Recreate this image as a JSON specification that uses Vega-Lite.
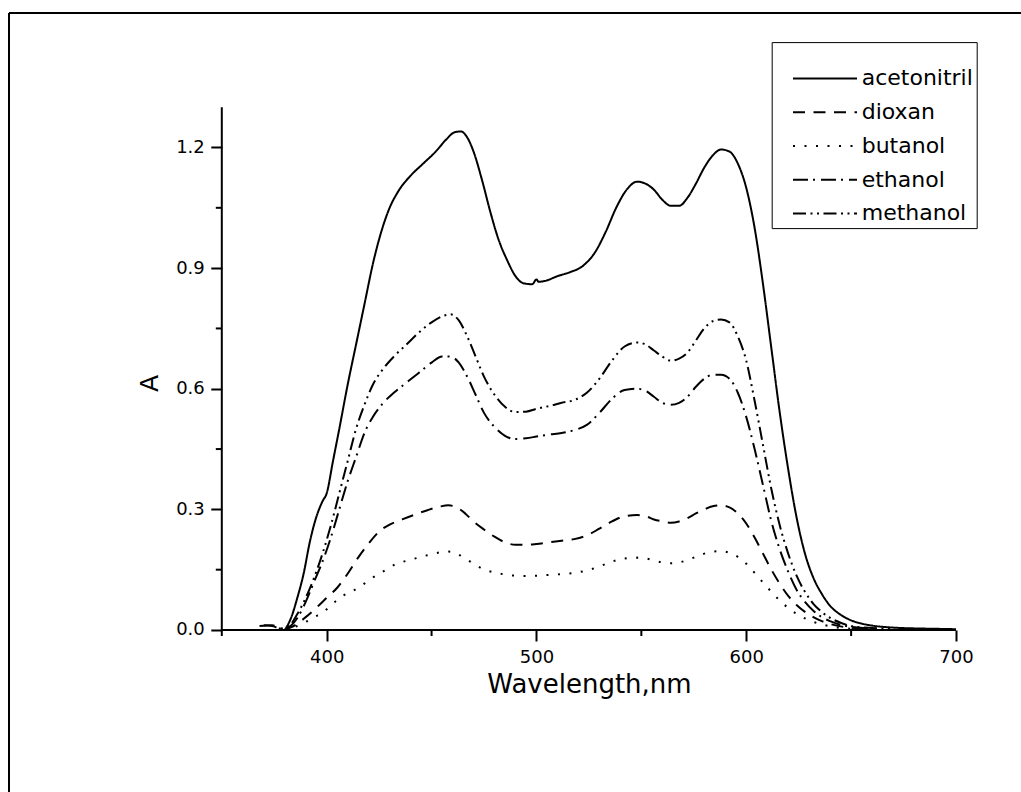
{
"$schema": "https://vega.github.io/schema/vega-lite/v6.json",
"width": 1012, "height": 779,
"autosize": "none",
"padding": {"left": 9, "top": 13, "right": 0, "bottom": 0},
"background": "white",
"config": {"view": {"stroke": null}, "font": "DejaVu Sans", "axis": {"grid": false, "labelColor": "black", "titleColor": "black", "tickColor": "black"}},
"datasets": {
"spectra": [
{"s":"acetonitril","x":380,"A":0},{"s":"acetonitril","x":383,"A":0.03},{"s":"acetonitril","x":386,"A":0.08},{"s":"acetonitril","x":389,"A":0.14},{"s":"acetonitril","x":392,"A":0.22},{"s":"acetonitril","x":395,"A":0.28},{"s":"acetonitril","x":398,"A":0.32},{"s":"acetonitril","x":400,"A":0.34},{"s":"acetonitril","x":403,"A":0.42},{"s":"acetonitril","x":406,"A":0.5},{"s":"acetonitril","x":410,"A":0.61},{"s":"acetonitril","x":414,"A":0.71},{"s":"acetonitril","x":418,"A":0.81},{"s":"acetonitril","x":422,"A":0.91},{"s":"acetonitril","x":426,"A":0.99},{"s":"acetonitril","x":430,"A":1.05},{"s":"acetonitril","x":434,"A":1.09},{"s":"acetonitril","x":440,"A":1.13},{"s":"acetonitril","x":446,"A":1.16},{"s":"acetonitril","x":452,"A":1.19},{"s":"acetonitril","x":457,"A":1.22},{"s":"acetonitril","x":461,"A":1.238},{"s":"acetonitril","x":464,"A":1.24},{"s":"acetonitril","x":467,"A":1.225},{"s":"acetonitril","x":470,"A":1.19},{"s":"acetonitril","x":474,"A":1.12},{"s":"acetonitril","x":478,"A":1.04},{"s":"acetonitril","x":482,"A":0.97},{"s":"acetonitril","x":486,"A":0.92},{"s":"acetonitril","x":490,"A":0.88},{"s":"acetonitril","x":494,"A":0.862},{"s":"acetonitril","x":498,"A":0.86},{"s":"acetonitril","x":500,"A":0.872},{"s":"acetonitril","x":501,"A":0.866},{"s":"acetonitril","x":504,"A":0.868},{"s":"acetonitril","x":510,"A":0.88},{"s":"acetonitril","x":516,"A":0.89},{"s":"acetonitril","x":522,"A":0.905},{"s":"acetonitril","x":528,"A":0.94},{"s":"acetonitril","x":533,"A":0.99},{"s":"acetonitril","x":538,"A":1.05},{"s":"acetonitril","x":543,"A":1.095},{"s":"acetonitril","x":548,"A":1.115},{"s":"acetonitril","x":552,"A":1.11},{"s":"acetonitril","x":556,"A":1.095},{"s":"acetonitril","x":560,"A":1.07},{"s":"acetonitril","x":564,"A":1.055},{"s":"acetonitril","x":568,"A":1.055},{"s":"acetonitril","x":572,"A":1.075},{"s":"acetonitril","x":576,"A":1.11},{"s":"acetonitril","x":580,"A":1.15},{"s":"acetonitril","x":584,"A":1.18},{"s":"acetonitril","x":588,"A":1.195},{"s":"acetonitril","x":592,"A":1.19},{"s":"acetonitril","x":596,"A":1.16},{"s":"acetonitril","x":600,"A":1.1},{"s":"acetonitril","x":604,"A":1.0},{"s":"acetonitril","x":608,"A":0.86},{"s":"acetonitril","x":612,"A":0.7},{"s":"acetonitril","x":616,"A":0.54},{"s":"acetonitril","x":620,"A":0.4},{"s":"acetonitril","x":624,"A":0.28},{"s":"acetonitril","x":628,"A":0.19},{"s":"acetonitril","x":632,"A":0.13},{"s":"acetonitril","x":636,"A":0.09},{"s":"acetonitril","x":640,"A":0.06},{"s":"acetonitril","x":645,"A":0.038},{"s":"acetonitril","x":650,"A":0.024},{"s":"acetonitril","x":655,"A":0.016},{"s":"acetonitril","x":660,"A":0.011},{"s":"acetonitril","x":670,"A":0.006},{"s":"acetonitril","x":680,"A":0.004},{"s":"acetonitril","x":690,"A":0.003},{"s":"acetonitril","x":700,"A":0.002},
{"s":"methanol","x":370,"A":0.012},{"s":"methanol","x":374,"A":0.01},{"s":"methanol","x":378,"A":0.004},{"s":"methanol","x":382,"A":0.01},{"s":"methanol","x":386,"A":0.04},{"s":"methanol","x":390,"A":0.08},{"s":"methanol","x":394,"A":0.13},{"s":"methanol","x":398,"A":0.19},{"s":"methanol","x":402,"A":0.26},{"s":"methanol","x":406,"A":0.34},{"s":"methanol","x":410,"A":0.42},{"s":"methanol","x":414,"A":0.5},{"s":"methanol","x":418,"A":0.56},{"s":"methanol","x":422,"A":0.61},{"s":"methanol","x":427,"A":0.65},{"s":"methanol","x":432,"A":0.68},{"s":"methanol","x":438,"A":0.71},{"s":"methanol","x":444,"A":0.74},{"s":"methanol","x":450,"A":0.765},{"s":"methanol","x":455,"A":0.78},{"s":"methanol","x":459,"A":0.785},{"s":"methanol","x":463,"A":0.77},{"s":"methanol","x":467,"A":0.73},{"s":"methanol","x":471,"A":0.68},{"s":"methanol","x":475,"A":0.63},{"s":"methanol","x":480,"A":0.585},{"s":"methanol","x":485,"A":0.555},{"s":"methanol","x":490,"A":0.542},{"s":"methanol","x":495,"A":0.543},{"s":"methanol","x":500,"A":0.55},{"s":"methanol","x":506,"A":0.557},{"s":"methanol","x":512,"A":0.565},{"s":"methanol","x":518,"A":0.572},{"s":"methanol","x":524,"A":0.59},{"s":"methanol","x":530,"A":0.625},{"s":"methanol","x":536,"A":0.67},{"s":"methanol","x":542,"A":0.705},{"s":"methanol","x":548,"A":0.715},{"s":"methanol","x":552,"A":0.71},{"s":"methanol","x":556,"A":0.695},{"s":"methanol","x":560,"A":0.68},{"s":"methanol","x":564,"A":0.67},{"s":"methanol","x":568,"A":0.675},{"s":"methanol","x":572,"A":0.69},{"s":"methanol","x":576,"A":0.72},{"s":"methanol","x":580,"A":0.75},{"s":"methanol","x":584,"A":0.768},{"s":"methanol","x":588,"A":0.772},{"s":"methanol","x":592,"A":0.765},{"s":"methanol","x":596,"A":0.73},{"s":"methanol","x":600,"A":0.67},{"s":"methanol","x":604,"A":0.57},{"s":"methanol","x":608,"A":0.46},{"s":"methanol","x":612,"A":0.35},{"s":"methanol","x":616,"A":0.26},{"s":"methanol","x":620,"A":0.19},{"s":"methanol","x":624,"A":0.135},{"s":"methanol","x":628,"A":0.095},{"s":"methanol","x":632,"A":0.065},{"s":"methanol","x":636,"A":0.045},{"s":"methanol","x":640,"A":0.03},{"s":"methanol","x":645,"A":0.018},{"s":"methanol","x":650,"A":0.01},{"s":"methanol","x":660,"A":0.005},{"s":"methanol","x":670,"A":0.003},
{"s":"ethanol","x":368,"A":0.01},{"s":"ethanol","x":374,"A":0.012},{"s":"ethanol","x":378,"A":0.004},{"s":"ethanol","x":382,"A":0.008},{"s":"ethanol","x":386,"A":0.03},{"s":"ethanol","x":390,"A":0.07},{"s":"ethanol","x":394,"A":0.12},{"s":"ethanol","x":398,"A":0.17},{"s":"ethanol","x":402,"A":0.23},{"s":"ethanol","x":406,"A":0.3},{"s":"ethanol","x":410,"A":0.37},{"s":"ethanol","x":414,"A":0.43},{"s":"ethanol","x":418,"A":0.49},{"s":"ethanol","x":422,"A":0.53},{"s":"ethanol","x":427,"A":0.565},{"s":"ethanol","x":432,"A":0.59},{"s":"ethanol","x":438,"A":0.615},{"s":"ethanol","x":444,"A":0.64},{"s":"ethanol","x":450,"A":0.665},{"s":"ethanol","x":455,"A":0.68},{"s":"ethanol","x":459,"A":0.68},{"s":"ethanol","x":463,"A":0.665},{"s":"ethanol","x":467,"A":0.63},{"s":"ethanol","x":471,"A":0.585},{"s":"ethanol","x":475,"A":0.54},{"s":"ethanol","x":480,"A":0.505},{"s":"ethanol","x":485,"A":0.483},{"s":"ethanol","x":490,"A":0.475},{"s":"ethanol","x":495,"A":0.477},{"s":"ethanol","x":500,"A":0.481},{"s":"ethanol","x":506,"A":0.486},{"s":"ethanol","x":512,"A":0.49},{"s":"ethanol","x":518,"A":0.497},{"s":"ethanol","x":524,"A":0.51},{"s":"ethanol","x":530,"A":0.54},{"s":"ethanol","x":536,"A":0.575},{"s":"ethanol","x":542,"A":0.597},{"s":"ethanol","x":548,"A":0.6},{"s":"ethanol","x":552,"A":0.595},{"s":"ethanol","x":556,"A":0.58},{"s":"ethanol","x":560,"A":0.565},{"s":"ethanol","x":564,"A":0.56},{"s":"ethanol","x":568,"A":0.565},{"s":"ethanol","x":572,"A":0.58},{"s":"ethanol","x":576,"A":0.605},{"s":"ethanol","x":580,"A":0.625},{"s":"ethanol","x":584,"A":0.635},{"s":"ethanol","x":588,"A":0.635},{"s":"ethanol","x":592,"A":0.625},{"s":"ethanol","x":596,"A":0.59},{"s":"ethanol","x":600,"A":0.53},{"s":"ethanol","x":604,"A":0.45},{"s":"ethanol","x":608,"A":0.36},{"s":"ethanol","x":612,"A":0.27},{"s":"ethanol","x":616,"A":0.2},{"s":"ethanol","x":620,"A":0.145},{"s":"ethanol","x":624,"A":0.1},{"s":"ethanol","x":628,"A":0.07},{"s":"ethanol","x":632,"A":0.048},{"s":"ethanol","x":636,"A":0.032},{"s":"ethanol","x":640,"A":0.022},{"s":"ethanol","x":645,"A":0.013},{"s":"ethanol","x":650,"A":0.008},{"s":"ethanol","x":660,"A":0.004},
{"s":"dioxan","x":380,"A":0.0},{"s":"dioxan","x":385,"A":0.012},{"s":"dioxan","x":390,"A":0.032},{"s":"dioxan","x":395,"A":0.055},{"s":"dioxan","x":400,"A":0.08},{"s":"dioxan","x":405,"A":0.105},{"s":"dioxan","x":410,"A":0.14},{"s":"dioxan","x":415,"A":0.18},{"s":"dioxan","x":420,"A":0.215},{"s":"dioxan","x":425,"A":0.245},{"s":"dioxan","x":430,"A":0.262},{"s":"dioxan","x":436,"A":0.275},{"s":"dioxan","x":442,"A":0.287},{"s":"dioxan","x":448,"A":0.298},{"s":"dioxan","x":454,"A":0.307},{"s":"dioxan","x":458,"A":0.31},{"s":"dioxan","x":462,"A":0.305},{"s":"dioxan","x":466,"A":0.29},{"s":"dioxan","x":470,"A":0.27},{"s":"dioxan","x":475,"A":0.25},{"s":"dioxan","x":480,"A":0.232},{"s":"dioxan","x":485,"A":0.218},{"s":"dioxan","x":490,"A":0.212},{"s":"dioxan","x":495,"A":0.212},{"s":"dioxan","x":500,"A":0.214},{"s":"dioxan","x":506,"A":0.218},{"s":"dioxan","x":512,"A":0.222},{"s":"dioxan","x":518,"A":0.226},{"s":"dioxan","x":524,"A":0.235},{"s":"dioxan","x":530,"A":0.252},{"s":"dioxan","x":536,"A":0.27},{"s":"dioxan","x":542,"A":0.283},{"s":"dioxan","x":548,"A":0.286},{"s":"dioxan","x":552,"A":0.283},{"s":"dioxan","x":556,"A":0.275},{"s":"dioxan","x":560,"A":0.27},{"s":"dioxan","x":564,"A":0.267},{"s":"dioxan","x":568,"A":0.27},{"s":"dioxan","x":572,"A":0.278},{"s":"dioxan","x":576,"A":0.29},{"s":"dioxan","x":580,"A":0.3},{"s":"dioxan","x":584,"A":0.308},{"s":"dioxan","x":588,"A":0.31},{"s":"dioxan","x":592,"A":0.305},{"s":"dioxan","x":596,"A":0.29},{"s":"dioxan","x":600,"A":0.265},{"s":"dioxan","x":604,"A":0.23},{"s":"dioxan","x":608,"A":0.19},{"s":"dioxan","x":612,"A":0.15},{"s":"dioxan","x":616,"A":0.115},{"s":"dioxan","x":620,"A":0.085},{"s":"dioxan","x":624,"A":0.062},{"s":"dioxan","x":628,"A":0.045},{"s":"dioxan","x":632,"A":0.032},{"s":"dioxan","x":636,"A":0.022},{"s":"dioxan","x":640,"A":0.015},{"s":"dioxan","x":645,"A":0.009},{"s":"dioxan","x":650,"A":0.005},{"s":"dioxan","x":660,"A":0.002},
{"s":"butanol","x":380,"A":0},{"s":"butanol","x":385,"A":0.008},{"s":"butanol","x":390,"A":0.02},{"s":"butanol","x":394,"A":0.032},{"s":"butanol","x":398,"A":0.043},{"s":"butanol","x":403,"A":0.066},{"s":"butanol","x":408,"A":0.086},{"s":"butanol","x":412,"A":0.096},{"s":"butanol","x":417,"A":0.112},{"s":"butanol","x":421,"A":0.127},{"s":"butanol","x":428,"A":0.149},{"s":"butanol","x":433,"A":0.164},{"s":"butanol","x":438,"A":0.172},{"s":"butanol","x":443,"A":0.179},{"s":"butanol","x":448,"A":0.186},{"s":"butanol","x":454,"A":0.193},{"s":"butanol","x":458,"A":0.195},{"s":"butanol","x":462,"A":0.19},{"s":"butanol","x":466,"A":0.178},{"s":"butanol","x":470,"A":0.165},{"s":"butanol","x":474,"A":0.153},{"s":"butanol","x":480,"A":0.143},{"s":"butanol","x":485,"A":0.138},{"s":"butanol","x":490,"A":0.135},{"s":"butanol","x":495,"A":0.134},{"s":"butanol","x":500,"A":0.135},{"s":"butanol","x":506,"A":0.137},{"s":"butanol","x":512,"A":0.139},{"s":"butanol","x":518,"A":0.142},{"s":"butanol","x":524,"A":0.148},{"s":"butanol","x":530,"A":0.158},{"s":"butanol","x":536,"A":0.17},{"s":"butanol","x":542,"A":0.178},{"s":"butanol","x":548,"A":0.18},{"s":"butanol","x":552,"A":0.178},{"s":"butanol","x":556,"A":0.173},{"s":"butanol","x":560,"A":0.168},{"s":"butanol","x":564,"A":0.166},{"s":"butanol","x":568,"A":0.168},{"s":"butanol","x":572,"A":0.174},{"s":"butanol","x":576,"A":0.182},{"s":"butanol","x":580,"A":0.19},{"s":"butanol","x":584,"A":0.195},{"s":"butanol","x":588,"A":0.196},{"s":"butanol","x":592,"A":0.192},{"s":"butanol","x":596,"A":0.182},{"s":"butanol","x":600,"A":0.165},{"s":"butanol","x":604,"A":0.142},{"s":"butanol","x":608,"A":0.118},{"s":"butanol","x":612,"A":0.095},{"s":"butanol","x":616,"A":0.073},{"s":"butanol","x":620,"A":0.055},{"s":"butanol","x":624,"A":0.04},{"s":"butanol","x":628,"A":0.029},{"s":"butanol","x":632,"A":0.02},{"s":"butanol","x":636,"A":0.014},{"s":"butanol","x":640,"A":0.009},{"s":"butanol","x":645,"A":0.005},{"s":"butanol","x":650,"A":0.003}
],
"minorx": [{"t": 350}, {"t": 450}, {"t": 550}, {"t": 650}],
"minory": [{"t": 0.15}, {"t": 0.45}, {"t": 0.75}, {"t": 1.05}],
"one": [{}]
},
"layer": [
{
"data": {"name": "spectra"},
"mark": {"type": "line", "color": "black", "strokeWidth": 2, "interpolate": "monotone"},
"encoding": {
"x": {"field": "x", "type": "quantitative", "scale": {"domain": [248.556, 730.987], "nice": false, "zero": false},
 "axis": {"values": [400, 500, 600, 700], "orient": "bottom", "offset": -162, "domain": false, "tickSize": 11, "tickWidth": 2, "labelFont": "DejaVu Sans", "labelFontSize": 18, "labelPadding": 7.8, "labelFlush": false, "labelOverlap": false, "title": "Wavelength,nm", "titleFont": "DejaVu Sans", "titleFontSize": 26, "titleFontWeight": "normal", "titleX": 580, "titleY": 54, "titleBaseline": "middle", "titleAlign": "center"}},
"y": {"field": "A", "type": "quantitative", "scale": {"domain": [-0.4029, 1.5345], "nice": false, "zero": false},
 "axis": {"values": [0, 0.3, 0.6, 0.9, 1.2], "format": ".1f", "orient": "left", "offset": -212.8, "domain": false, "tickSize": 11, "tickWidth": 2, "labelFont": "DejaVu Sans", "labelFontSize": 18, "labelPadding": 6.5, "labelFlush": false, "labelOverlap": false, "title": "A", "titleFont": "DejaVu Sans", "titleFontSize": 25, "titleFontWeight": "normal", "titleX": -72, "titleY": 370, "titleAngle": -90, "titleBaseline": "middle", "titleAlign": "center"}},
"strokeDash": {"field": "s", "type": "nominal",
 "scale": {"domain": ["acetonitril", "dioxan", "butanol", "ethanol", "methanol"], "range": [[1, 0], [12, 8.5], [2, 9.5], [15, 5, 2, 6], [13, 4.5, 2, 4.5, 2, 4.5]]},
 "legend": {"orient": "none", "legendX": 762.7, "legendY": 29.1, "title": "\u2800", "titleFont": "DejaVu Sans", "titleFontSize": 12, "titlePadding": 10.8, "titleLimit": 1000, "padding": 3, "strokeColor": "black", "fillColor": "white", "symbolType": "stroke", "symbolSize": 4096, "symbolStrokeWidth": 2, "symbolStrokeColor": "black", "symbolOffset": 17.3, "labelOffset": 3.7, "labelFont": "DejaVu Sans", "labelFontSize": 22, "labelColor": "black", "labelLimit": 1000, "clipHeight": 21, "rowPadding": 10.75}}
}
},
{
"data": {"name": "minorx"},
"mark": {"type": "rule", "color": "black", "strokeWidth": 2, "y2Offset": 6},
"encoding": {
"x": {"field": "t", "type": "quantitative"},
"y": {"datum": 0, "type": "quantitative"},
"y2": {"datum": 0}
}
},
{
"data": {"name": "minory"},
"mark": {"type": "rule", "color": "black", "strokeWidth": 2, "x2Offset": -6},
"encoding": {
"y": {"field": "t", "type": "quantitative"},
"x": {"datum": 350, "type": "quantitative"},
"x2": {"datum": 350}
}
},
{
"data": {"name": "one"},
"mark": {"type": "rule", "color": "black", "strokeWidth": 2},
"encoding": {"x": {"datum": 350, "type": "quantitative"}, "x2": {"datum": 700}, "y": {"datum": 0, "type": "quantitative"}}
},
{
"data": {"name": "one"},
"mark": {"type": "rule", "color": "black", "strokeWidth": 2},
"encoding": {"x": {"datum": 350, "type": "quantitative"}, "y": {"datum": 0, "type": "quantitative"}, "y2": {"datum": 1.3}}
},
{
"data": {"name": "one"},
"mark": {"type": "rule", "color": "black", "strokeWidth": 2},
"encoding": {"x": {"datum": 248.556, "type": "quantitative"}}
},
{
"data": {"name": "one"},
"mark": {"type": "rule", "color": "black", "strokeWidth": 2},
"encoding": {"y": {"datum": 1.5345, "type": "quantitative"}}
}
]
}
